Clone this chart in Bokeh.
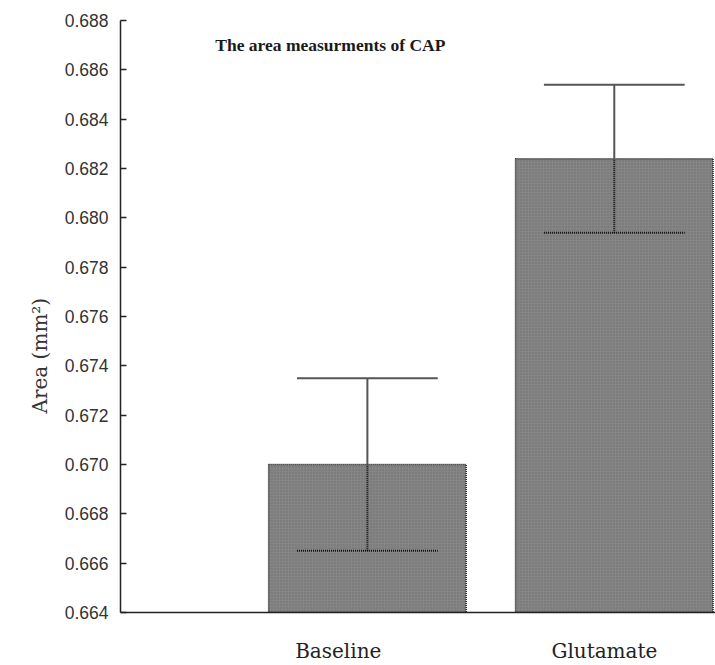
from bokeh.plotting import figure
from bokeh.models import Range1d, FixedTicker, ColumnDataSource, Label, Title
from bokeh.embed import file_html
from bokeh.resources import INLINE

# CAP area per condition (mean and error, mm^2)
categories = ["Baseline", "Glutamate"]
means = [0.6700, 0.6824]
errors = [0.0035, 0.0030]
y_ticks = [0.664, 0.666, 0.668, 0.670, 0.672, 0.674, 0.676, 0.678,
           0.680, 0.682, 0.684, 0.686, 0.688]

xs = [i + 1 for i in range(len(categories))]
bar_w = 0.8
cap_half = 0.285
y_min, y_max = 0.664, 0.688
# category names sit slightly left of the bar centres
name_shift = [-0.118, -0.04]

p = figure(width=715, height=665, output_backend="svg", toolbar_location=None,
           x_range=Range1d(0, 2.41), y_range=Range1d(y_min, y_max),
           min_border_left=120, min_border_right=0, min_border_top=20,
           min_border_bottom=53)
p.outline_line_color = None
p.xgrid.visible = False
p.ygrid.visible = False
p.background_fill_color = "white"
p.border_fill_color = "white"

src = ColumnDataSource(dict(
    x=xs, top=means,
    hi=[m + e for m, e in zip(means, errors)],
    lo=[m - e for m, e in zip(means, errors)],
    cx0=[x - cap_half for x in xs], cx1=[x + cap_half for x in xs],
))

p.vbar(x="x", top="top", bottom=y_min, width=bar_w, source=src,
       fill_color="#858585", line_color="#1a1a1a", line_width=1.5,
       line_dash="1 1", hatch_pattern=".", hatch_color="#6e6e6e",
       hatch_scale=3, hatch_weight=1)

# upper whisker: solid grey above the bar
p.segment(x0="x", y0="top", x1="x", y1="hi", source=src,
          line_color="#555555", line_width=2)
p.segment(x0="cx0", y0="hi", x1="cx1", y1="hi", source=src,
          line_color="#555555", line_width=2)
# lower whisker: dotted black inside the bar
p.segment(x0="x", y0="lo", x1="x", y1="top", source=src,
          line_color="#111111", line_width=2, line_dash="1 1")
p.segment(x0="cx0", y0="lo", x1="cx1", y1="lo", source=src,
          line_color="#111111", line_width=2, line_dash="1 1")

# title inside the plot area
p.add_layout(Label(x=0.85, y=0.68699, text="The area measurments of CAP",
                   text_font="Liberation Serif", text_font_style="bold",
                   text_font_size="17.5px", text_color="#1a1a1a",
                   text_align="center", text_baseline="middle"))

# y axis
p.yaxis.ticker = FixedTicker(ticks=y_ticks)
p.yaxis.major_label_overrides = {t: f"{t:.3f}" for t in y_ticks}
p.yaxis.major_tick_in = 6
p.yaxis.major_tick_out = 0
p.yaxis.minor_tick_line_color = None
p.yaxis.axis_line_color = "#222222"
p.yaxis.axis_line_width = 1.5
p.yaxis.major_tick_line_color = "#222222"
p.yaxis.major_tick_line_width = 1.5
p.yaxis.major_label_text_font = "Liberation Sans"
p.yaxis.major_label_text_font_size = "17.5px"
p.yaxis.major_label_text_color = "#333333"
p.yaxis.major_label_standoff = 12

# y axis title as a side title, below the middle of the axis
p.add_layout(Title(text="Area (mm²)", align="left", offset=199,
                   standoff=19, text_font="DejaVu Serif",
                   text_font_style="normal", text_font_size="20px",
                   text_color="#333333"), "left")

# x axis with the category names
name_pos = [x + d for x, d in zip(xs, name_shift)]
p.xaxis.ticker = FixedTicker(ticks=name_pos)
p.xaxis.major_label_overrides = {x: c for x, c in zip(name_pos, categories)}
p.xaxis.major_tick_in = 0
p.xaxis.major_tick_out = 0
p.xaxis.minor_tick_line_color = None
p.xaxis.axis_line_color = "#222222"
p.xaxis.axis_line_width = 1.5
p.xaxis.major_label_text_font = "DejaVu Serif"
p.xaxis.major_label_text_font_size = "20px"
p.xaxis.major_label_text_color = "#222222"
p.xaxis.major_label_standoff = 26

open("out.html", "w").write(file_html(p, INLINE))
